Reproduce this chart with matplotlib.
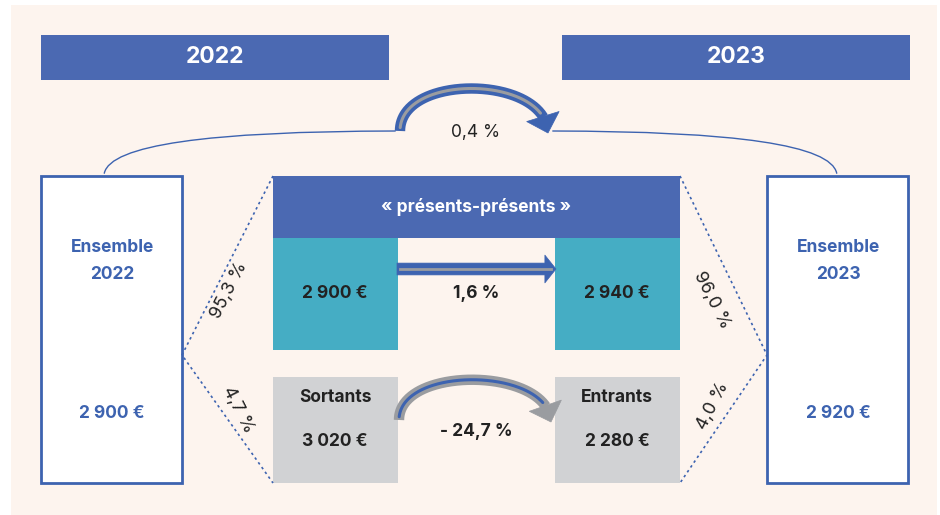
import matplotlib
matplotlib.use("Agg")
import numpy as np
import matplotlib.pyplot as plt
from matplotlib.patches import Rectangle, FancyArrowPatch, Polygon

plt.rcParams['font.family'] = ['Inter', 'DejaVu Sans']

# data
years = ["2022", "2023"]
ensemble_salaries = ["2 900 €", "2 920 €"]
present_salaries = ["2 900 €", "2 940 €"]
flow_labels = ["Sortants", "Entrants"]
flow_salaries = ["3 020 €", "2 280 €"]
evolution_total = "0,4 %"
evolution_present = "1,6 %"
evolution_flow = "- 24,7 %"
share_present = ["95,3 %", "96,0 %"]
share_flow = ["4,7 %", "4,0 %"]

BG = "#fdf4ee"
BLUE = "#4b69b2"
LINE_BLUE = "#3d63b0"
TEAL = "#45adc4"
GREY = "#d1d2d4"
ARROW_GREY = "#9a9ca0"
DARK = "#222222"
FS = 12.5

fig = plt.figure(figsize=(9.4, 5.15), dpi=100)
ax = fig.add_axes([0, 0, 1, 1])
ax.set_xlim(0, 940)
ax.set_ylim(515, 0)
ax.axis("off")

ax.add_patch(Rectangle((11, 5), 926, 510, facecolor=BG, edgecolor="none"))

# year banners
for x0, yr in zip([41, 562], years):
    ax.add_patch(Rectangle((x0, 35), 348, 45, facecolor=BLUE, edgecolor="none"))
    ax.text(x0 + 174, 57, yr, color="white", fontsize=16.5, fontweight="bold",
            ha="center", va="center")

# ensemble boxes
for x0, yr, sal in zip([41, 767], years, ensemble_salaries):
    ax.add_patch(Rectangle((x0, 176), 141, 307, facecolor="white",
                           edgecolor=LINE_BLUE, lw=2))
    ax.text(x0 + 71, 261, "Ensemble\n" + yr, color=LINE_BLUE, fontsize=FS,
            fontweight="bold", ha="center", va="center", linespacing=1.7)
    ax.text(x0 + 71, 414, sal, color=LINE_BLUE, fontsize=FS,
            fontweight="bold", ha="center", va="center")

# thin connector from ensemble boxes to the top arrow
ax.add_patch(FancyArrowPatch((104, 176), (398, 131), arrowstyle="-",
                             connectionstyle="angle3,angleA=90,angleB=0",
                             color=LINE_BLUE, lw=1))
ax.add_patch(FancyArrowPatch((550, 131), (837, 176), arrowstyle="-",
                             connectionstyle="angle3,angleA=0,angleB=90",
                             color=LINE_BLUE, lw=1))

# présents-présents block
ax.add_patch(Rectangle((273, 176), 407, 62, facecolor=BLUE, edgecolor="none"))
ax.text(476, 207, "« présents-présents »", color="white", fontsize=FS,
        fontweight="bold", ha="center", va="center")
for x0, sal in zip([273, 555], present_salaries):
    ax.add_patch(Rectangle((x0, 238), 125, 112, facecolor=TEAL, edgecolor="none"))
    ax.text(x0 + 62, 294, sal, color=DARK, fontsize=FS, fontweight="bold",
            ha="center", va="center")

# sortants / entrants
for x0, lab, sal in zip([273, 555], flow_labels, flow_salaries):
    ax.add_patch(Rectangle((x0, 377), 125, 106, facecolor=GREY, edgecolor="none"))
    ax.text(x0 + 62, 398, lab, color=DARK, fontsize=FS, fontweight="bold",
            ha="center", va="center")
    ax.text(x0 + 62, 441, sal, color=DARK, fontsize=FS, fontweight="bold",
            ha="center", va="center")

# dotted links
ax.plot([273, 182, 273], [176, 355, 483], ls=(0, (1.5, 2)), color=LINE_BLUE, lw=1.2)
ax.plot([680, 767, 680], [176, 355, 483], ls=(0, (1.5, 2)), color=LINE_BLUE, lw=1.2)

ax.text(229, 290, share_present[0], rotation=63, fontsize=13, color=DARK,
        ha="center", va="center", rotation_mode="anchor")
ax.text(238, 410, share_flow[0], rotation=-63, fontsize=13, color=DARK,
        ha="center", va="center", rotation_mode="anchor")
ax.text(712, 300, share_present[1], rotation=-63, fontsize=13, color=DARK,
        ha="center", va="center", rotation_mode="anchor")
ax.text(713, 406, share_flow[1], rotation=63, fontsize=13, color=DARK,
        ha="center", va="center", rotation_mode="anchor")


def arc_arrow(p0, p3, h, outer, inner, head_len=17, head_half=17, body=7.5):
    # cubic bezier hump from p0 to p3, with a drawn arrow head at p3
    x0, y0 = p0
    x3, y3 = p3
    c1 = (x0, y0 - h)
    c2 = (x3 - 2, y3 - h)
    t = np.linspace(0, 1, 200)[:, None]
    pts = ((1 - t) ** 3 * np.array(p0) + 3 * (1 - t) ** 2 * t * np.array(c1)
           + 3 * (1 - t) * t ** 2 * np.array(c2) + t ** 3 * np.array(p3))
    d = np.hypot(*(pts - pts[-1]).T)
    base_i = np.argmin(np.abs(d - head_len))
    base = pts[base_i]
    u = (pts[-1] - base) / np.hypot(*(pts[-1] - base))
    n = np.array([-u[1], u[0]])
    ax.plot(pts[:base_i + 2, 0], pts[:base_i + 2, 1], color=outer, lw=body,
            solid_capstyle="butt")
    ax.add_patch(Polygon([base + n * head_half, pts[-1], base - n * head_half],
                         closed=True, facecolor=outer, edgecolor=outer, lw=0.5))
    ax.plot(pts[4:base_i - 4, 0], pts[4:base_i - 4, 1], color=inner, lw=2.2,
            solid_capstyle="round")


# top arrow (ensemble)
arc_arrow((400, 131), (548, 133), 58, LINE_BLUE, ARROW_GREY)
ax.text(476, 133, evolution_total, color=DARK, fontsize=FS,
        ha="center", va="center")

# straight arrow (présents)
ax.add_patch(FancyArrowPatch((397, 269), (556, 269), arrowstyle="simple,tail_width=8.5,head_width=20,head_length=8",
                             mutation_scale=1, facecolor=LINE_BLUE, edgecolor=LINE_BLUE,
                             lw=0.5, shrinkA=0, shrinkB=0))
ax.plot([400, 551], [269, 269], color=ARROW_GREY, lw=2)
ax.text(476, 294, evolution_present, color=DARK, fontsize=FS, fontweight="bold",
        ha="center", va="center")

# bottom arrow (sortants -> entrants)
arc_arrow((399, 420), (551, 422), 55, ARROW_GREY, LINE_BLUE)
ax.text(476, 432, evolution_flow, color=DARK, fontsize=FS, fontweight="bold",
        ha="center", va="center")

fig.savefig("out.png", dpi=100, facecolor="white")
